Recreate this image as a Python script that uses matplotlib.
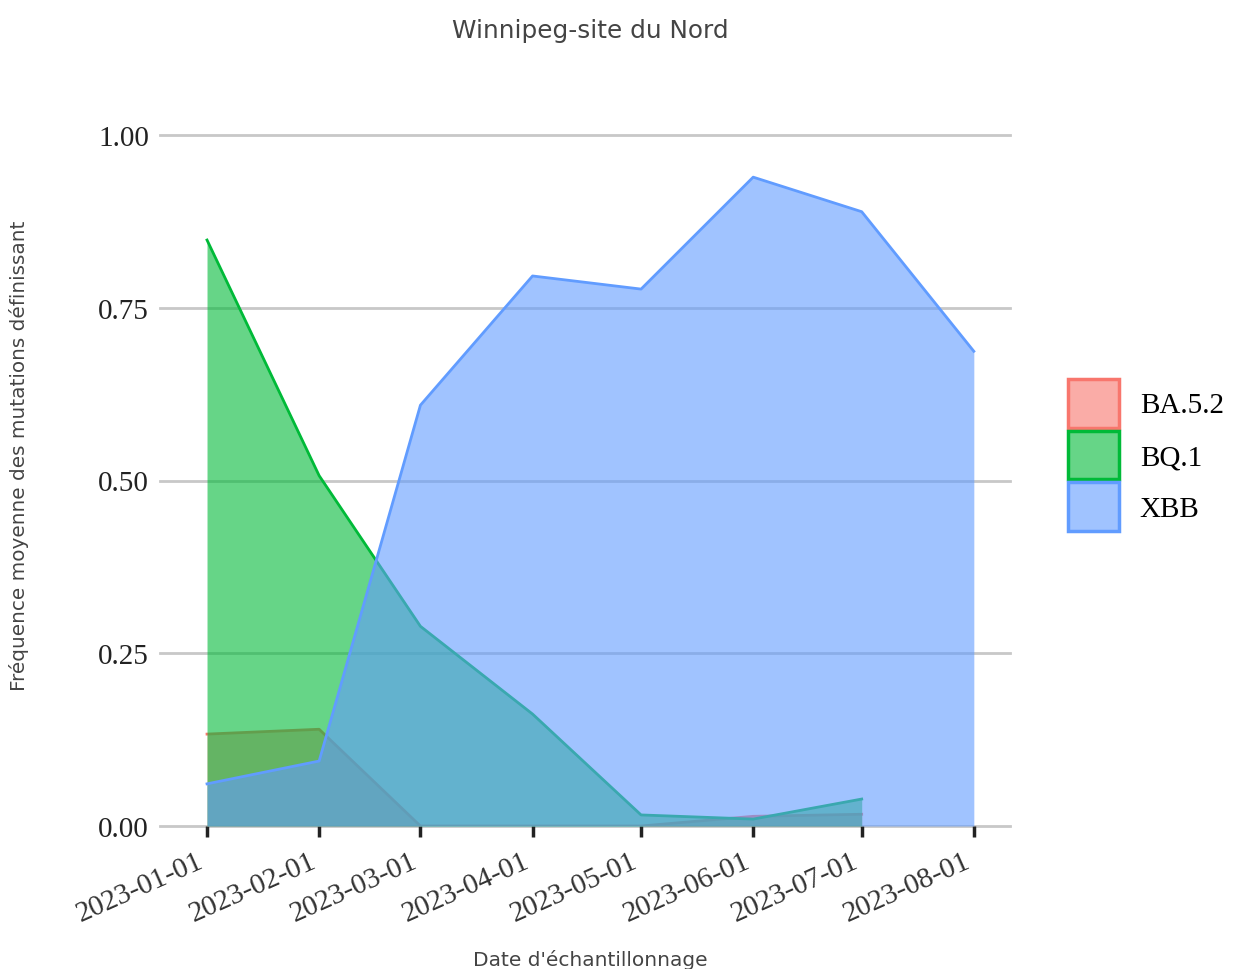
import matplotlib
matplotlib.use("Agg")
import matplotlib.pyplot as plt
import matplotlib.transforms as mtransforms
from matplotlib.patches import Patch
import datetime as dt

dates = ["2023-01-01", "2023-02-01", "2023-03-01", "2023-04-01",
         "2023-05-01", "2023-06-01", "2023-07-01", "2023-08-01"]
ba52_vals = [0.133, 0.140, 0.0, 0.0, 0.0, 0.014, 0.017]
bq1_vals = [0.848, 0.507, 0.289, 0.162, 0.016, 0.010, 0.039]
xbb_vals = [0.061, 0.094, 0.609, 0.796, 0.777, 0.939, 0.889, 0.687]
series_names = ["BA.5.2", "BQ.1", "XBB"]
series_colors = ["#F8766D", "#00BA38", "#619CFF"]
y_ticks = [0.0, 0.25, 0.5, 0.75, 1.0]
y_labels = ["0.00", "0.25", "0.50", "0.75", "1.00"]

x = [dt.datetime.strptime(d, "%Y-%m-%d") for d in dates]

fig = plt.figure(figsize=(12.37, 9.7), dpi=100)
ax = fig.add_axes([160/1237, (970-827)/970, (1010-160)/1237, (827-136)/970])

all_vals = [ba52_vals, bq1_vals, xbb_vals]
for name, vals, col in zip(series_names, all_vals, series_colors):
    xs = x[:len(vals)]
    ax.fill_between(xs, 0, vals, color=col, alpha=0.6, linewidth=0, zorder=2)
    ax.plot(xs, vals, color=col, linewidth=2.0, zorder=2)

ax.set_ylim(0, 1.0)
ax.set_xlim(dt.datetime(2022, 12, 19), dt.datetime(2023, 8, 11))
ax.set_yticks(y_ticks)
ax.set_yticklabels(y_labels, fontfamily="Liberation Serif", fontsize=21, color="#222222")
ax.set_xticks(x)
ax.set_xticklabels([])
offset = mtransforms.ScaledTranslation(-10/100, -22/100, fig.dpi_scale_trans)
trans = ax.get_xaxis_transform() + offset
for xi, lab in zip(x, dates):
    ax.text(xi, 0, lab, transform=trans, fontfamily="Liberation Serif", fontsize=21,
            color="#333333", rotation=24, ha="right", va="top", rotation_mode="anchor",
            clip_on=False)
ax.tick_params(axis="y", length=0, pad=8)
ax.tick_params(axis="x", length=8, width=2.5, color="#222222", pad=8)
for y in y_ticks:
    ax.axhline(y, color="#c8c8c8", linewidth=2, zorder=1, clip_on=False)
for s in ax.spines.values():
    s.set_visible(False)

fig.text(590/1237, 1 - 31/970, "Winnipeg-site du Nord", ha="center", va="center",
         fontsize=17.8, color="#444444", family="DejaVu Sans")
fig.text(590/1237, 1 - 960/970, "Date d'échantillonnage", ha="center", va="center",
         fontsize=14.5, color="#444444", family="DejaVu Sans")
fig.text(19/1237, 1 - 456/970, "Fréquence moyenne des mutations définissant", ha="center",
         va="center", rotation=90, fontsize=14.4, color="#444444", family="DejaVu Sans")

handles = [Patch(facecolor=matplotlib.colors.to_rgba(c, 0.6), edgecolor=c, linewidth=2.5)
           for c in series_colors]
leg = fig.legend(handles, series_names, loc="center left", bbox_to_anchor=(1042/1237, 1 - 456/970),
                 frameon=False, prop={"family": "Liberation Serif", "size": 21},
                 handlelength=1.75, handleheight=2.2, handletextpad=0.7, labelspacing=0.1)

fig.savefig("out.png", dpi=100)
